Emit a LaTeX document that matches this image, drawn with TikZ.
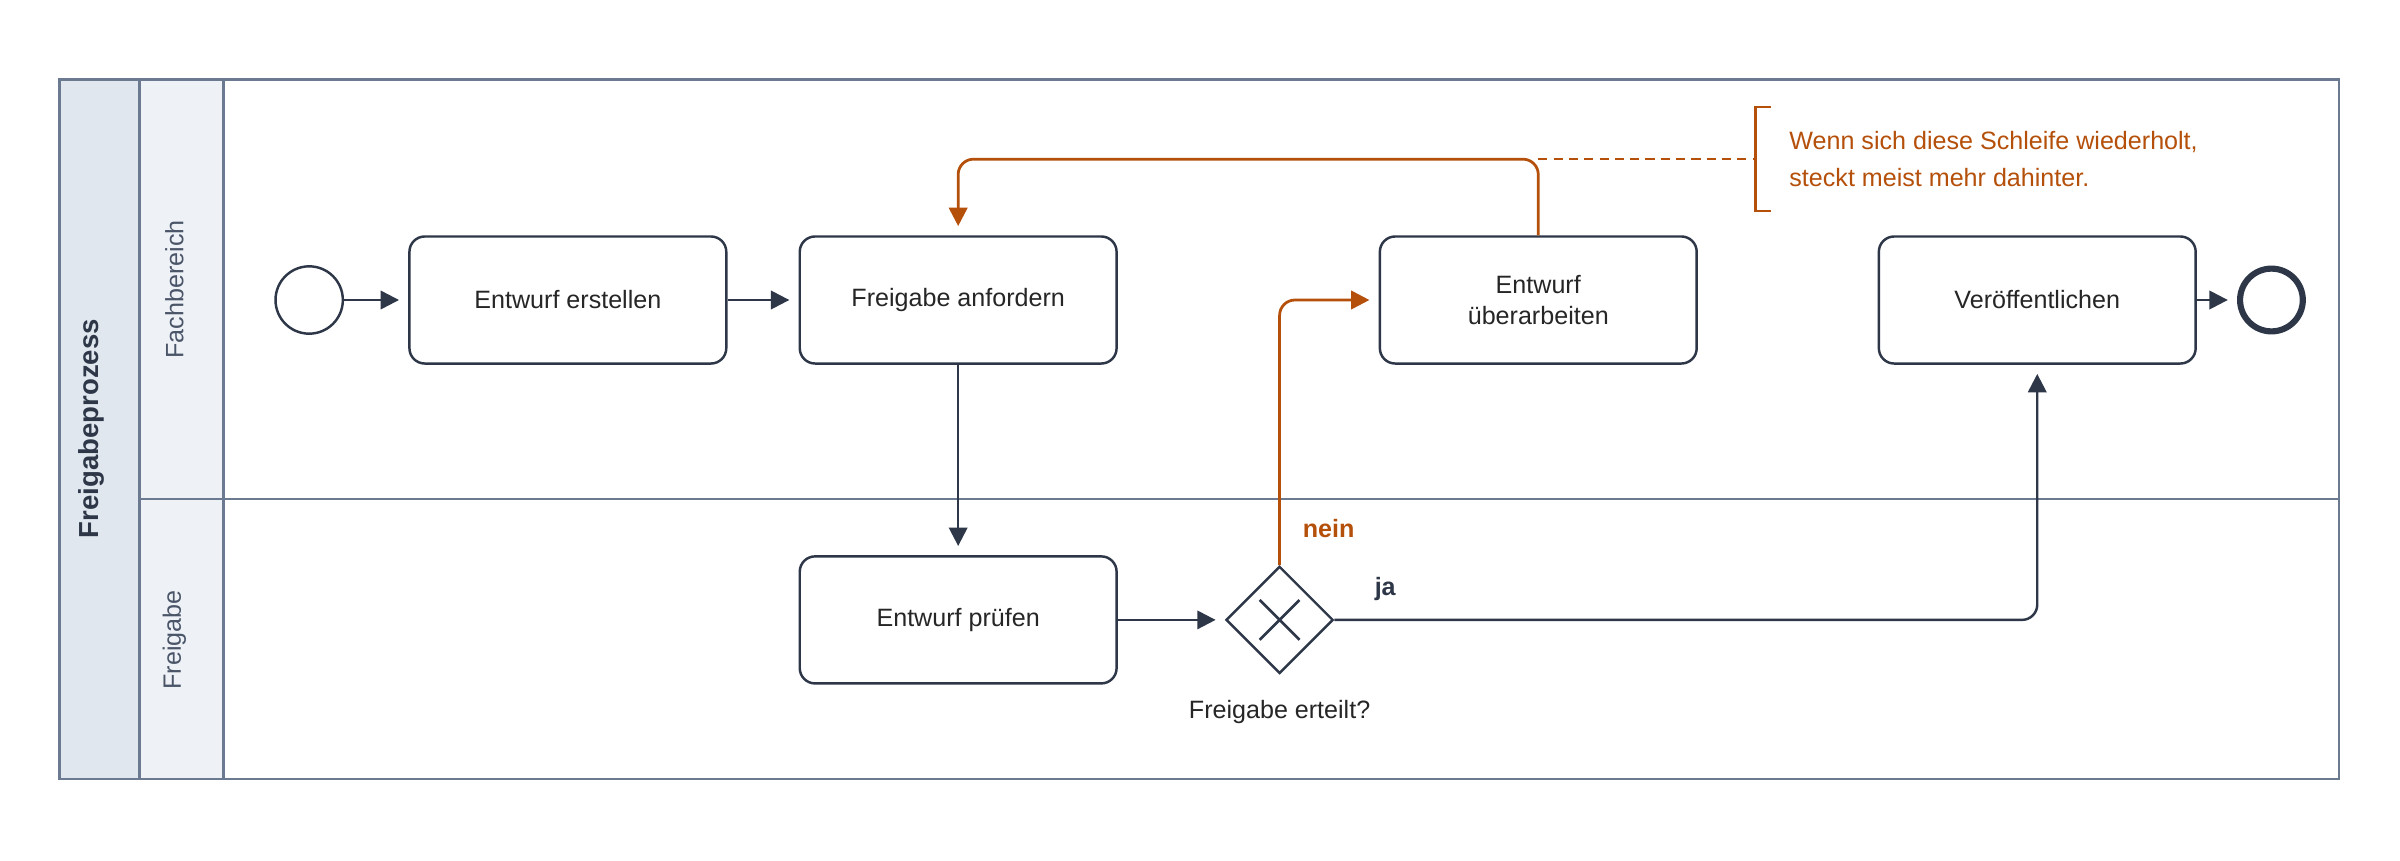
\documentclass[tikz,border=0pt]{standalone}
\usepackage{fontspec}
\setmainfont{Liberation Sans}
\usetikzlibrary{arrows.meta,shapes.geometric}
\definecolor{ink}{HTML}{2D3748}
\definecolor{org}{HTML}{B5500B}
\definecolor{lanec}{HTML}{6B7A90}
\definecolor{lanet}{HTML}{4A5568}
\definecolor{poolf}{HTML}{E1E7EF}
\definecolor{lanef}{HTML}{EEF2F7}
\begin{document}
\begin{tikzpicture}[x=0.5pt,y=-0.5pt,
 font=\fontsize{8.2pt}{10pt}\selectfont,
 task/.style={draw=ink,line width=0.8pt,rounded corners=5pt,minimum width=103.5pt,minimum height=41.5pt,align=center,text=black!85},
 flow/.style={draw=ink,line width=0.8pt,shorten >=3pt,-{Triangle[length=6pt,width=6pt]}},
 oflow/.style={draw=org,line width=0.9pt,rounded corners=5pt,shorten >=3pt,-{Triangle[length=6pt,width=6pt]}}]
\useasboundingbox (0,0) rectangle (1568,562);
\fill[white] (0,0) rectangle (1568,562);
% pool
\draw[lanec,line width=0.8pt,fill=poolf] (39,52) rectangle (91,509);
\draw[lanec,line width=0.8pt,fill=lanef] (91,52) rectangle (146,509);
\draw[lanec,line width=0.8pt] (39,52) rectangle (1528,509);
\draw[lanec,line width=0.8pt] (91,326) -- (1528,326);
\node[rotate=90,font=\fontsize{9pt}{10pt}\selectfont\bfseries,text=ink] (pool) at (60,280) {Freigabeprozess};
\node[rotate=90,text=lanet] (l1) at (114,189) {Fachbereich};
\node[rotate=90,text=lanet] (l2) at (114,418) {Freigabe};
% nodes
\node[circle,draw=ink,line width=0.8pt,minimum size=22pt,inner sep=0] (s) at (202,196) {};
\node[task] (t1) at (371,196) {Entwurf erstellen};
\node[task] (t2) at (626,196) {Freigabe anfordern};
\node[task] (t3) at (1005,196) {Entwurf\\überarbeiten};
\node[task] (t4) at (1331,196) {Veröffentlichen};
\node[task] (t5) at (626,405) {Entwurf prüfen};
\node[diamond,draw=ink,line width=0.8pt,minimum size=35pt,inner sep=0] (g) at (836,405) {};
\draw[ink,line width=0.9pt] (g.center)+(-13,-13) -- +(13,13) (g.center)+(-13,13) -- +(13,-13);
\node[text=black!85] (gl) at (836,465) {Freigabe erteilt?};
\node[circle,draw=ink,line width=2pt,minimum size=20.5pt,inner sep=0] (e) at (1484,196) {};
% flows
\draw[flow] (s) -- (t1);
\draw[flow] (t1) -- (t2);
\draw[flow] (t2) -- (t5);
\draw[flow] (t5) -- (g);
\draw[flow] (t4) -- (e);
\draw[flow,rounded corners=5pt] (g.east) -- (1331,405) -- (t4.south);
\node[font=\fontsize{8.2pt}{10pt}\selectfont\bfseries,text=ink] (ja) at (905,385) {ja};
\draw[oflow] (g.north) -- (836,196) -- (t3.west);
\node[font=\fontsize{8.2pt}{10pt}\selectfont\bfseries,text=org] (nein) at (868,345) {nein};
\coordinate (lp) at (1005,104);
\draw[oflow] (t3.north) -- (lp) -- (626,104) -- (t2.north);
% annotation
\coordinate (br) at (1147,104);
\draw[org,line width=0.8pt,dashed,dash pattern=on 3pt off 2pt] (lp) -- (br);
\draw[org,line width=0.8pt] (1157,70) -- (1147,70) -- (1147,138) -- (1157,138);
\node[anchor=west,align=left,text=org,font=\fontsize{8.2pt}{12pt}\selectfont] (ann) at (1162,104) {Wenn sich diese Schleife wiederholt,\\steckt meist mehr dahinter.};
\end{tikzpicture}
\end{document}
